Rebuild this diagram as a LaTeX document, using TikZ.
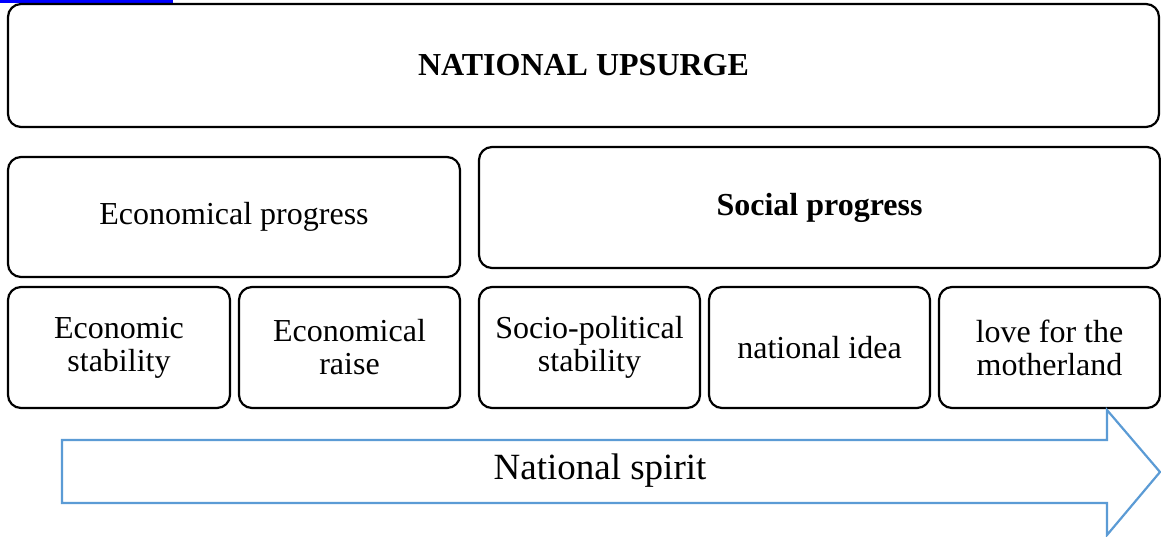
\documentclass[tikz,border=0pt]{standalone}
\usepackage{fontspec}
\setmainfont{Liberation Serif}
\usepackage{xcolor}
\definecolor{arrowblue}{RGB}{91,155,213}

\begin{document}
\begin{tikzpicture}[x=1pt,y=-1pt,
    box/.style={draw,rounded corners=13pt,line width=2.2pt,align=center,
        inner sep=0pt,font=\fontsize{32}{33}\selectfont},
    headbox/.style={box,font=\fontsize{32}{33}\selectfont\bfseries}]
    \useasboundingbox (0,0) rectangle (1161,536);
    \draw[blue,line width=3pt] (0,1.5) -- (173,1.5);
    \node[headbox,minimum width=1151pt,minimum height=123pt] (upsurge) at (583.5,65.5) {NATIONAL UPSURGE};
    \node[box,minimum width=452pt,minimum height=120pt] (econ) at (234,217) {Economical progress};
    \node[headbox,minimum width=681pt,minimum height=121pt] (social) at (819.5,207.5) {Social progress};
    \node[box,minimum width=222pt,minimum height=121pt] (stab) at (119,347.5) {Economic\\stability};
    \node[box,minimum width=221pt,minimum height=121pt] (raise) at (349.5,347.5) {Economical\\raise};
    \node[box,minimum width=221pt,minimum height=121pt] (socpol) at (589.5,347.5) {Socio-political\\stability};
    \node[box,minimum width=221pt,minimum height=121pt] (idea) at (819.5,347.5) {national idea};
    \node[box,minimum width=221pt,minimum height=121pt] (love) at (1049.5,347.5) {love for the\\motherland};
    \draw[arrowblue,line width=2.2pt,fill=white] (62,440) -- (1107,440) -- (1107,410) -- (1160,472)
        -- (1107,535) -- (1107,503) -- (62,503) -- cycle;
    \node[font=\fontsize{37}{40}\selectfont] (spirit) at (600,471) {National spirit};
\end{tikzpicture}
\end{document}
